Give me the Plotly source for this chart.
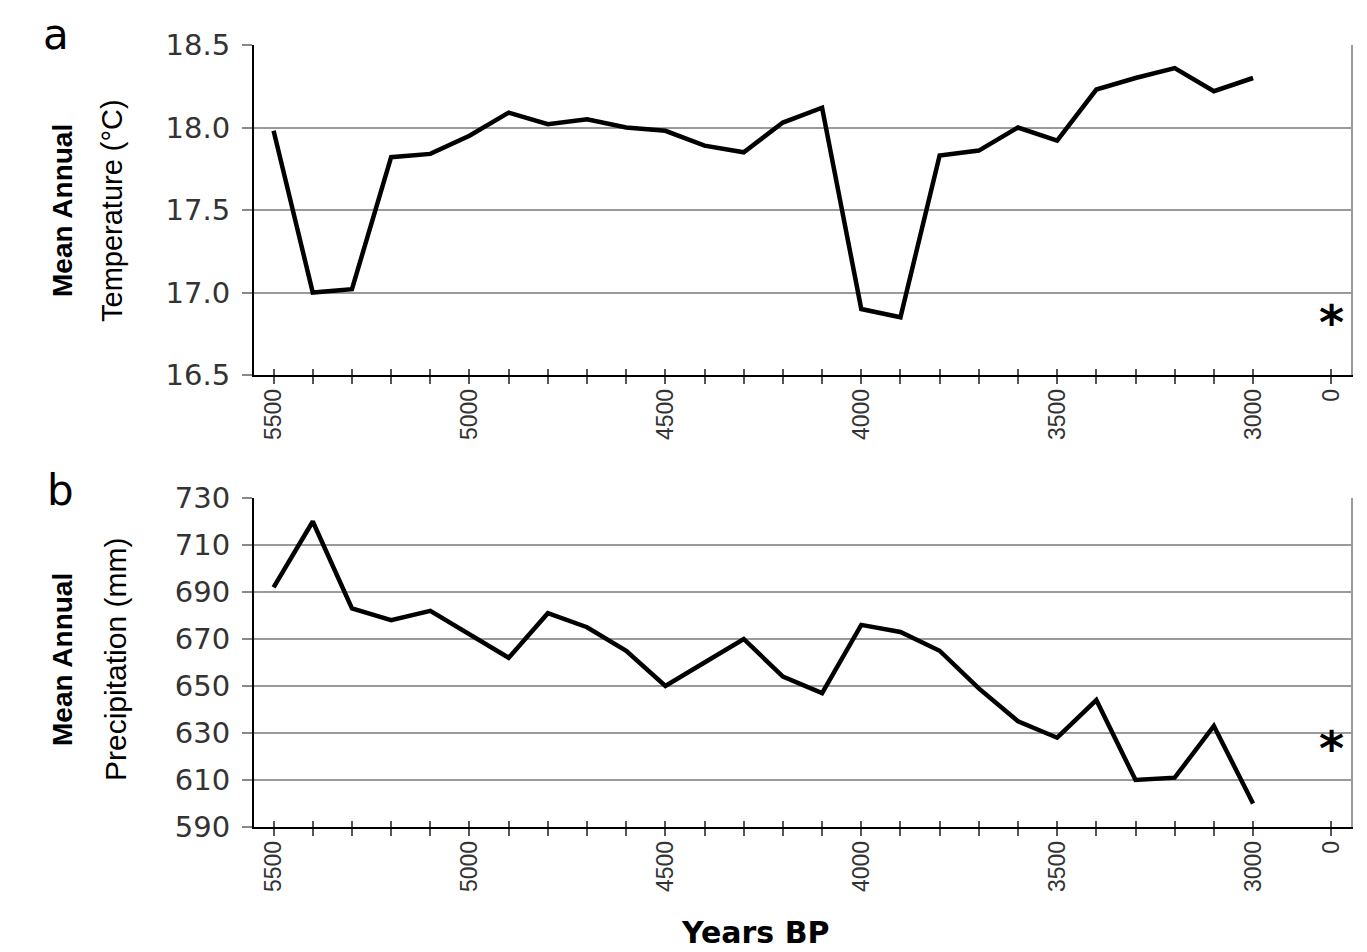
import plotly.graph_objects as go

# ---------------- data ----------------
years = [5500, 5400, 5300, 5200, 5100, 5000, 4900, 4800, 4700, 4600, 4500,
         4400, 4300, 4200, 4100, 4000, 3900, 3800, 3700, 3600, 3500,
         3400, 3300, 3200, 3100, 3000]
temp = [17.98, 17.00, 17.02, 17.82, 17.84, 17.95, 18.09, 18.02, 18.05, 18.00,
        17.98, 17.89, 17.85, 18.03, 18.12, 16.90, 16.85, 17.83, 17.86, 18.00,
        17.92, 18.23, 18.30, 18.36, 18.22, 18.30]
precip = [692, 720, 683, 678, 682, 672, 662, 681, 675, 665, 650, 660, 670,
          654, 647, 676, 673, 665, 649, 635, 628, 644, 610, 611, 633, 600]
modern_label = "0"
modern_temp = 16.87
modern_precip = 627
temp_ticks = [16.5, 17.0, 17.5, 18.0, 18.5]
precip_ticks = [590, 610, 630, 650, 670, 690, 710, 730]

# ---------------- layout geometry ----------------
# the page body has an 8px margin, so the figure sits at (8, 8)
OFF = 8
W, H = 1359, 944
L, R, T, B = 246, 16, 37, 125
PW, PH = W - L - R, H - T - B


def px_x(page_x):
    return (page_x - OFF - L) / PW


def px_y(page_y):
    return (H - B - (page_y - OFF)) / PH


idx = list(range(len(years)))
modern_idx = len(years) + 1          # one empty slot before the "0" category
tickvals = idx + [modern_idx]
ticktext = [str(y) if y % 500 == 0 else "" for y in years] + [modern_label]
xrange_ = [-0.5, modern_idx + 0.5]

top_dom = [px_y(375), px_y(45)]
bot_dom = [px_y(827), px_y(498)]

ROT_FONT = dict(family="Liberation Sans, Arial, sans-serif", size=23, color="#333333")
YTICK_FONT = dict(family="DejaVu Sans, Verdana, sans-serif", size=29, color="#333333")
GRID = "#9a9a9a"

fig = go.Figure()
fig.add_trace(go.Scatter(x=idx, y=temp, mode="lines", line=dict(color="black", width=4.5),
                         xaxis="x", yaxis="y", showlegend=False, hoverinfo="skip"))
fig.add_trace(go.Scatter(x=idx, y=precip, mode="lines", line=dict(color="black", width=4.5),
                         xaxis="x2", yaxis="y2", showlegend=False, hoverinfo="skip"))
# transparent copies so the overlay axes (inner ticks, right frame) are drawn
fig.add_trace(go.Scatter(x=idx, y=temp, mode="lines", line=dict(color="rgba(0,0,0,0)", width=0),
                         xaxis="x3", yaxis="y3", showlegend=False, hoverinfo="skip"))
fig.add_trace(go.Scatter(x=idx, y=precip, mode="lines", line=dict(color="rgba(0,0,0,0)", width=0),
                         xaxis="x4", yaxis="y4", showlegend=False, hoverinfo="skip"))


def main_x(anchor):
    return dict(domain=[0, 1], anchor=anchor, range=xrange_, tickmode="array",
                tickvals=tickvals, ticktext=ticktext, tickangle=-90,
                ticks="outside", ticklen=7, tickwidth=1.5, tickcolor="#555555",
                showline=True, linecolor="black", linewidth=1.5, showgrid=False,
                zeroline=False, tickfont=ROT_FONT, ticklabelstandoff=-4, fixedrange=True)


def inner_x(over, anchor):
    return dict(overlaying=over, anchor=anchor, range=xrange_, tickmode="array",
                tickvals=tickvals, ticks="inside", ticklen=6, tickwidth=1.5,
                tickcolor="#555555", showticklabels=False, showline=False,
                showgrid=False, zeroline=False, fixedrange=True)


def main_y(dom, anchor, rng, tv):
    return dict(domain=dom, anchor=anchor, range=rng, tickmode="array", tickvals=tv,
                ticktext=[f"{v:.1f}" if isinstance(v, float) else str(v) for v in tv],
                ticks="outside", ticklen=10, tickwidth=1.5, tickcolor="#888888",
                showline=True, linecolor="black", linewidth=2,
                showgrid=True, gridcolor=GRID, gridwidth=1.5, zeroline=False,
                tickfont=YTICK_FONT, ticklabelstandoff=6, fixedrange=True)


def frame_y(over, anchor, rng):
    return dict(overlaying=over, anchor=anchor, side="right", range=rng,
                showline=True, linecolor="#9a9a9a", linewidth=1.5, ticks="",
                showticklabels=False, showgrid=False, zeroline=False, fixedrange=True)


fig.update_layout(
    width=W, height=H, autosize=False,
    margin=dict(l=L, r=R, t=T, b=B),
    paper_bgcolor="white", plot_bgcolor="white",
    xaxis=main_x("y"),
    xaxis2=main_x("y2"),
    xaxis3=inner_x("x", "y"),
    xaxis4=inner_x("x2", "y2"),
    yaxis=main_y(top_dom, "x", [16.5, 18.5], temp_ticks),
    yaxis2=main_y(bot_dom, "x2", [590, 730], precip_ticks),
    yaxis3=frame_y("y", "x", [16.5, 18.5]),
    yaxis4=frame_y("y2", "x2", [590, 730]),
)

ann = []
# y-axis titles (two lines each)
for (xpx, ypx, txt, bold, size) in [
    (62, 211, "Mean Annual", True, 28), (112, 211, "Temperature (°C)", False, 29),
    (62, 660, "Mean Annual", True, 28), (115, 660, "Precipitation (mm)", False, 30),
]:
    ann.append(dict(x=px_x(xpx), y=px_y(ypx), xref="paper", yref="paper",
                    text=f"<b>{txt}</b>" if bold else txt, textangle=-90,
                    showarrow=False, xanchor="center", yanchor="middle",
                    font=dict(family="Liberation Sans, Arial, sans-serif", size=size, color="black")))
# panel letters
for (xpx, ypx, txt) in [(56, 35, "a"), (60, 490, "b")]:
    ann.append(dict(x=px_x(xpx), y=px_y(ypx), xref="paper", yref="paper", text=txt,
                    showarrow=False, xanchor="center", yanchor="middle",
                    font=dict(family="DejaVu Sans, sans-serif", size=42, color="black")))
# x-axis title
ann.append(dict(x=px_x(755), y=px_y(932), xref="paper", yref="paper",
                text="<b>Years BP</b>", showarrow=False, xanchor="center", yanchor="middle",
                font=dict(family="DejaVu Sans, sans-serif", size=30, color="black")))
# modern-value asterisks
for (xa, ya, val) in [("x", "y", modern_temp), ("x2", "y2", modern_precip)]:
    ann.append(dict(x=modern_idx, y=val, xref=xa, yref=ya, text="<b>*</b>",
                    showarrow=False, xanchor="center", yanchor="middle", yshift=-8,
                    font=dict(family="DejaVu Sans, sans-serif", size=48, color="black")))
fig.update_layout(annotations=ann)

fig.write_html("out.html")
